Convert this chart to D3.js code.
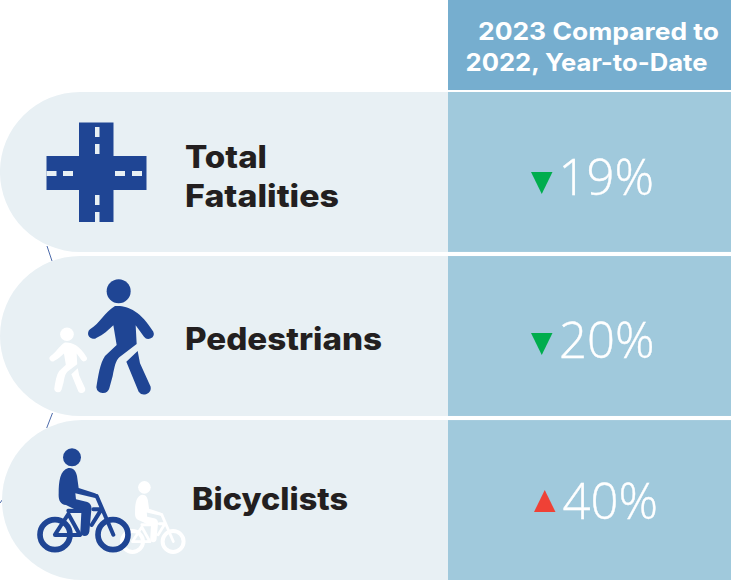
<!DOCTYPE html>
<html><head><meta charset="utf-8">
<style>html,body{margin:0;padding:0;background:#fff}svg{display:block}text{font-family:Inter,"Open Sans",sans-serif}</style>
<script src="https://cdn.jsdelivr.net/npm/d3@7"></script>
</head><body><svg id="c" width="733" height="580"></svg>
<script>
const categories=[["Total","Fatalities"],["Pedestrians"],["Bicyclists"]];
const changes=[19,20,40];
const directions=["down","down","up"];
const headerLines=["2023 Compared to","2022, Year-to-Date"];
const icons=["road","walk","bike"];

const W=731,navy="#1f4594",colX=448,pale="#e8f0f4";
const svg=d3.select("#c");
const y=d3.scaleBand().domain(d3.range(categories.length)).range([92,580]).paddingInner(0.025);
const h=y.bandwidth();

// stray connector ticks beneath the pills
[[47,246,52,261],[52.5,413,46.7,428],[0,503,2.2,500]].forEach(l=>svg.append("line")
  .attr("x1",l[0]).attr("y1",l[1]).attr("x2",l[2]).attr("y2",l[3]).attr("stroke",navy).attr("stroke-width",.8));

// header
svg.append("rect").attr("x",colX).attr("y",0).attr("width",W-colX).attr("height",90).attr("fill","#76aecf");
const hx=[478,465.5],hy=[40,70.5],hw=[241,242];
svg.selectAll(".h").data(headerLines).join("text").attr("class","h")
  .attr("x",(d,i)=>hx[i]).attr("y",(d,i)=>hy[i]).attr("fill","#fff").attr("font-weight",700).attr("font-size",24)
  .attr("textLength",(d,i)=>hw[i]).attr("lengthAdjust","spacingAndGlyphs").text(d=>d);

// rows
const rows=svg.selectAll(".row").data(categories).join("g").attr("class","row");
rows.append("path").attr("fill",pale).attr("d",(d,i)=>{
  const x0=i==2?2:0,t=y(i),r=h/2,p=d3.path();
  p.moveTo(colX,t);p.lineTo(x0+r,t);p.arc(x0+r,t+r,r,-Math.PI/2,Math.PI/2,true);p.lineTo(colX,t+h);p.closePath();return p.toString();
});
rows.append("rect").attr("x",colX).attr("y",(d,i)=>y(i)).attr("width",W-colX).attr("height",h).attr("fill","#a0c9dc");

// category labels
const lx=[185,185,192],ly=[168,350,510],lw=[[82,154],[197],[156]];
rows.each(function(d,i){
  d3.select(this).selectAll(".lab").data(d).join("text").attr("class","lab")
    .attr("x",lx[i]).attr("y",(s,j)=>ly[i]+j*39).attr("font-size",31).attr("font-weight",800).attr("fill","#231f20")
    .attr("textLength",(s,j)=>lw[i][j]).attr("lengthAdjust","spacingAndGlyphs").text(s=>s);
});

// values
const vx=[558.5,559,562.5],vy=[195,358,519];
rows.append("text").attr("x",(d,i)=>vx[i]).attr("y",(d,i)=>vy[i])
  .style("font-family","'Open Sans'").attr("font-weight",300).attr("font-size",49).attr("fill","#fff")
  .attr("stroke","#fff").attr("stroke-width",.4).text((d,i)=>changes[i]+"%");
const tri=[[531,172],[531,333],[534,490]];
rows.append("path").attr("fill",(d,i)=>directions[i]=="down"?"#00ad4e":"#ef4136").attr("d",(d,i)=>{
  const [a,b]=tri[i];
  return directions[i]=="down"?`M${a},${b}h21.5l-10.75,22z`:`M${a},${b+22}h21.5l-10.75,-22z`;
});

// icons
function road(g){
  g.append("path").attr("fill",navy).attr("d","M79,122.5h34.5V156h33v34h-33v32H79V190H46.5V156H79z");
  [[95,127,4.5,10],[95,144,4.5,10],[95,195,4.5,10],[95,212,4.5,10],[46.5,171,10,5],[63,171,10,5],[115,171,10,5],[132,171,10,5]]
   .forEach(r=>g.append("rect").attr("x",r[0]).attr("y",r[1]).attr("width",r[2]).attr("height",r[3]).attr("fill",pale));
}
function person(g,c){
  g.append("circle").attr("cx",356).attr("cy",124).attr("r",36).attr("fill",c);
  g.append("path").attr("fill",c).attr("d","M345,168C380,165 420,180 460,245A16,16 0 0 1 432,260L407,226L410,282L358,322C346,334 344,350 338,378L328,415A20,20 0 0 1 289,412C295,375 300,340 315,318L350,285L340,226C325,240 310,255 290,263A16,16 0 0 1 270,238C300,220 315,185 345,168Z");
  g.append("path").attr("fill",c).attr("d","M379,335L413,303L420,340L452,410A20,20 0 0 1 416,425Z");
}
function cyclist(g,c){
  g.append("circle").attr("cx",216).attr("cy",142).attr("r",27).attr("fill",c);
  g.append("path").attr("fill",c).attr("d","M205,174C222,172 228,185 231,198L236,234L285,250C292,252 296,258 295,266L235,252L226,250L228,268L262,276C272,280 276,290 274,300L268,365C266,382 242,382 241,365L244,308L198,285C180,282 175,270 176,250C176,215 180,180 205,174Z");
  g.append("g").attr("fill","none").attr("stroke",c).call(s=>{
    s.selectAll("circle").data([165,339]).join("circle").attr("cx",d=>d).attr("cy",374).attr("r",45).attr("stroke-width",17);
    s.append("path").attr("stroke-width",12).attr("stroke-linejoin","round").attr("stroke-linecap","round")
      .attr("d","M290,258L340,374M165,374L205,312L240,375H165M205,302L245,303M300,305L275,345M280,298H305");
  });
}
const ic=rows.append("g").attr("transform",(d,i)=>`translate(0,${[0,250,410][i]}) scale(${i?1/3:1})`);
ic.each(function(d,i){
  const g=d3.select(this);
  if(icons[i]=="road")road(g);
  if(icons[i]=="walk"){person(g,navy);person(g.append("g").attr("transform","translate(-2,182) scale(.57)"),"#fff");}
  if(icons[i]=="bike"){cyclist(g.append("g").attr("transform","translate(282,132.6) scale(.7)"),"#fff");cyclist(g,navy);}
});
</script></body></html>
